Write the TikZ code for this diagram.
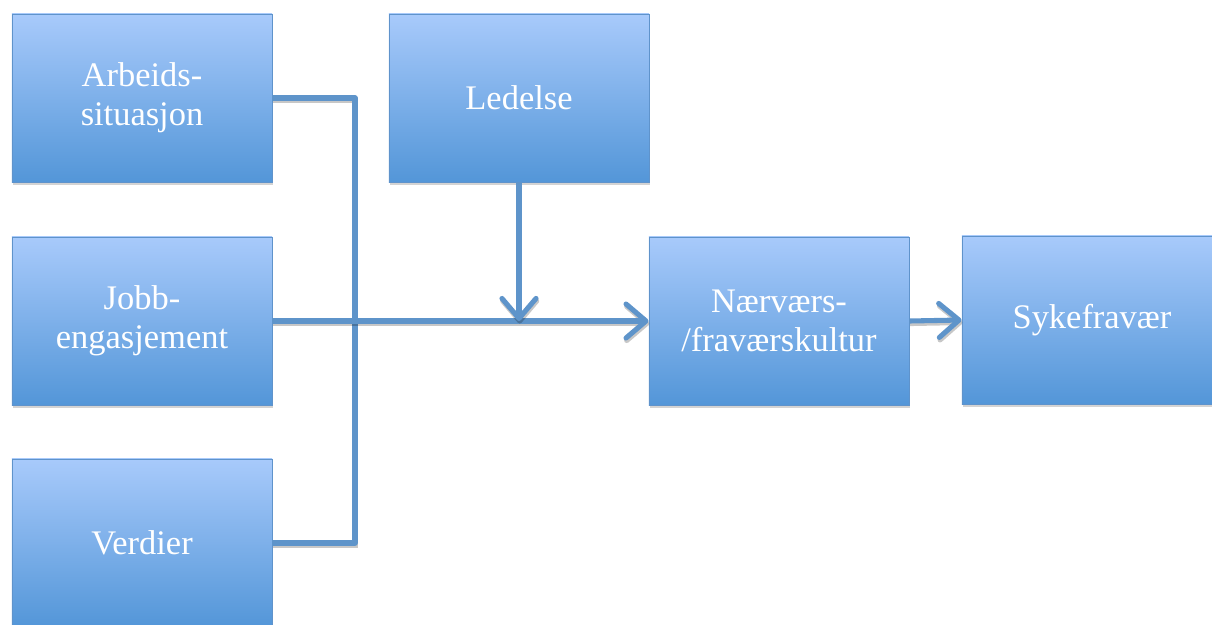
\documentclass[tikz,border=0pt]{standalone}
\usepackage{fontspec}
\setmainfont{Liberation Serif}
\usetikzlibrary{calc}
\usetikzlibrary{positioning}
\usetikzlibrary{arrows.meta}
\usetikzlibrary{shadows}
\definecolor{boxtop}{HTML}{A8CAFB}
\definecolor{boxbottom}{HTML}{5396D8}
\definecolor{boxline}{HTML}{5F93CB}
\definecolor{linkblue}{HTML}{5E94CA}

\begin{document}
\begin{tikzpicture}[%
  x=0.025cm, y=-0.025cm,
  >={Straight Barb[length=0.5cm, width=0.85cm, round]},
  factor/.style={rectangle, minimum width=6.5cm, minimum height=4.2cm,
    top color=boxtop, bottom color=boxbottom, draw=boxline, line width=0.6pt,
    drop shadow={shadow xshift=0.6pt, shadow yshift=-2.2pt, opacity=0.35},
    text=white, align=center, font=\fontsize{24.5}{27.5}\selectfont},
  link/.style={draw=linkblue, line width=3.6pt, line join=round,
    preaction={draw=black, opacity=0.22, line width=3.6pt, transform canvas={xshift=0.5pt, yshift=-1.8pt}}},
]

  \useasboundingbox (0,0) rectangle (1212,625);
  \clip (0,0) rectangle (1212,625);

  \node[factor] (arb)  at (142,98)   {Arbeids-\\situasjon};
  \node[factor] (jobb) at (142,321)  {Jobb-\\engasjement};
  \node[factor] (verd) at (142,543)  {Verdier};
  \node[factor] (led)  at (519,98)   {Ledelse};
  \node[factor] (naer) at (779,321)  {Nærværs-\\/fraværskultur};
  \node[factor] (syke) at (1092,320) {Sykefravær};

  \coordinate (hub) at (355,321);
  \coordinate (meet) at (led.south |- hub);

  \path[link] (arb.east) -| (hub);
  \path[link] (verd.east) -| (hub);
  \path[link] (jobb.east) -- (hub);
  \path[link,->] (hub) -- (naer.west);
  \path[link,->] (led.south) -- (meet);
  \path[link,->] (naer.east) -- (syke.west);

\end{tikzpicture}
\end{document}
